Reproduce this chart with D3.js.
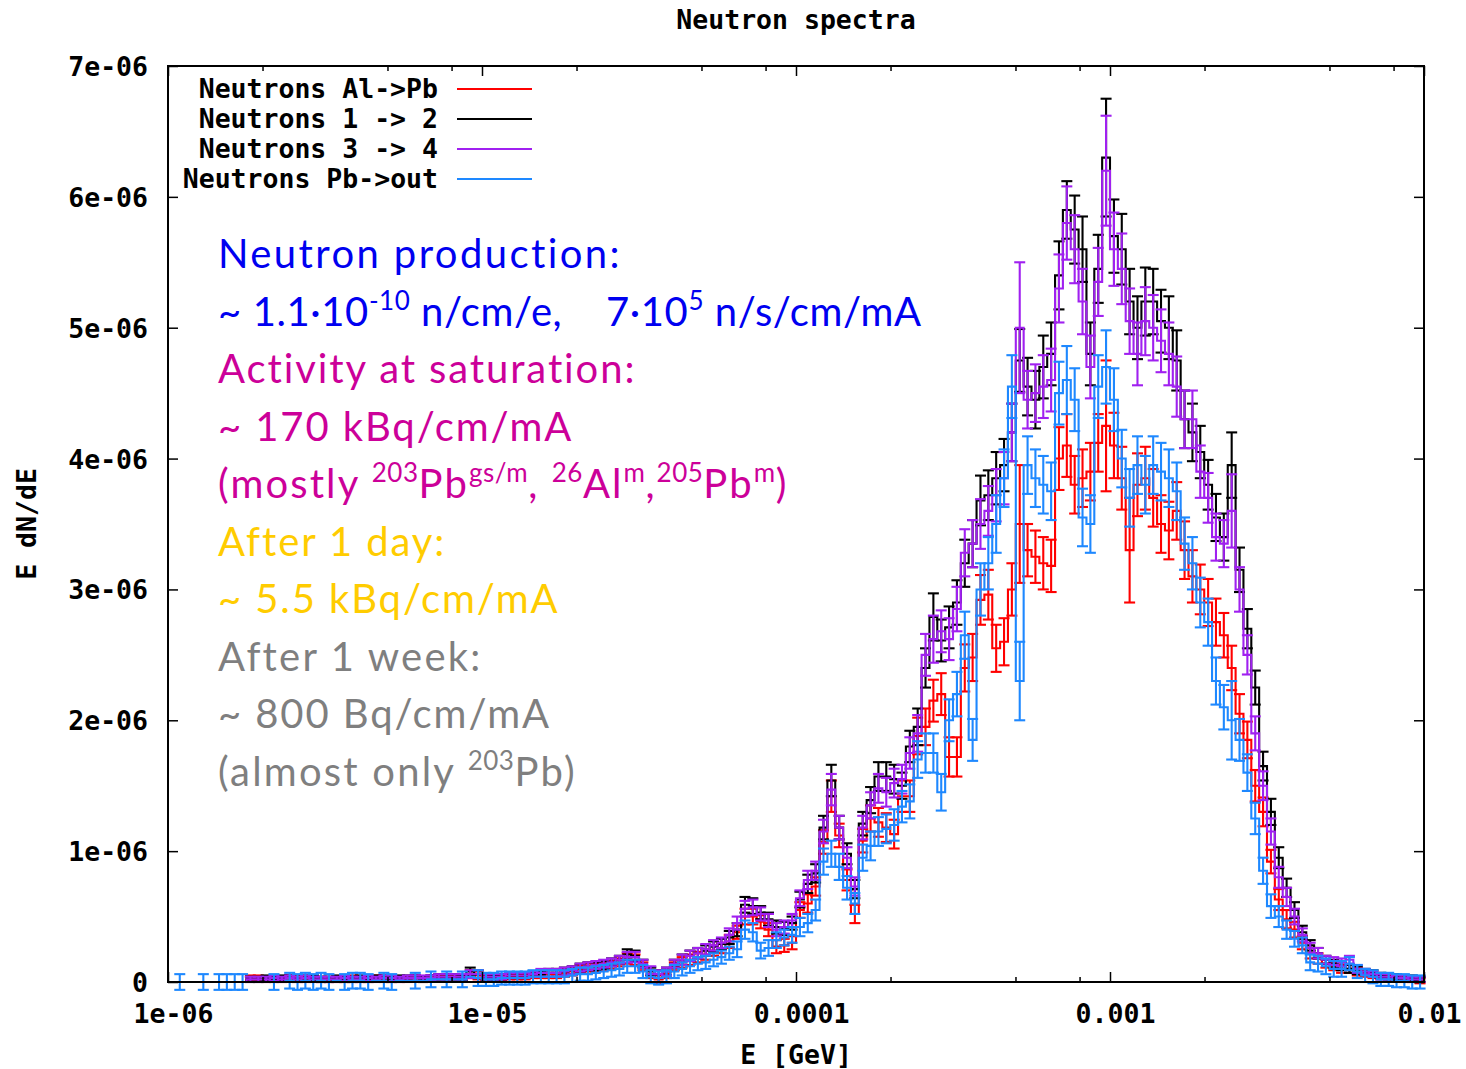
<!DOCTYPE html>
<html>
<head>
<meta charset="utf-8">
<script src="https://cdn.jsdelivr.net/npm/d3@7"></script>
<style>
  html, body { margin: 0; padding: 0; background: #fff; }
  svg { display: block; }
  .gp { font-family: 'DejaVu Sans Mono', monospace; font-weight: bold; font-size: 26.5px; fill: #000; white-space: pre; }
  .note { font-family: Lato, 'Open Sans', sans-serif; font-size: 40px; letter-spacing: 1.9px; white-space: pre; }
</style>
</head>
<body>
<div id="chart"></div>
<script>
// E dN/dE histograms, log bins (40 per decade from 1e-6 GeV), values in units of 1e-8
const binsPerDecade = 40;
const eMin = 1e-6;
const unit = 1e-8;

const seriesNames = ['Neutrons Al->Pb', 'Neutrons 1 -> 2', 'Neutrons 3 -> 4', 'Neutrons Pb->out'];
const seriesColors = ['#ff0000', '#000000', '#a020f0', '#1e88ff'];

const alToPb = [
  0,0,0,0,0,0,0,0,0,0, 3,3,2,3,2,3,3,2,3,2, 2,2,2,3,2,2,3,2,2,2, 2,3,2,3,3,3,3,3,6,5,
  3,3,3,4,4,4,5,5,6,6, 7,8,10,11,11,12,13,15,18,17, 12,6,2,6,12,15,17,19,21,24, 26,31,38,50,50,46,40,27,28,30,
  55,60,73,107,142,112,78,52,108,125, 122,118,113,142,142,188,195,215,220,172, 172,240,248,292,296,255,260,300,350,330,
  325,320,318,400,410,380,385,390,412,425, 410,385,330,380,385,370,350,345,360,330, 310,300,290,275,265,240,205,185,150,130,
  92,63,48,40,30,22,18,14,12,10, 10,8,6,5,4,3,3,2,2,1
];
const alToPbErr = [
  0,0,0,0,0,0,0,0,0,0, 2,2,2,2,2,2,2,2,2,2, 2,2,2,2,2,2,2,2,2,2, 2,2,2,2,2,2,2,2,3,3,
  2,2,2,2,2,2,2,2,3,3, 3,3,3,3,3,3,3,3,4,4, 3,3,3,3,3,4,4,4,4,4, 4,5,5,6,6,5,5,5,5,5,
  6,7,7,9,12,9,8,7,9,10, 11,11,11,12,12,14,14,16,16,15, 15,18,18,19,19,18,18,20,45,20,
  20,20,20,24,24,22,22,22,22,50, 25,24,40,24,24,22,22,22,22,22, 20,19,18,18,17,17,15,14,12,11,
  9,8,7,6,5,4,4,3,3,3, 3,3,2,2,2,2,2,2,2,2
];

const oneToTwo = [
  0,0,0,0,0,0,0,0,0,0, 2,2,3,2,3,3,2,3,3,2, 2,3,2,2,3,2,3,3,2,3, 3,3,2,3,4,4,4,3,8,6,
  4,3,4,5,5,5,6,6,7,7, 8,9,11,12,12,13,15,17,21,20, 14,8,6,8,14,17,20,22,24,27, 29,34,40,59,58,53,48,42,41,45,
  63,75,83,118,154,118,98,71,121,139, 157,157,155,150,180,195,240,279,261,271, 290,320,335,368,372,385,395,420,475,455,
  445,470,480,540,590,575,560,480,545,630, 570,560,520,500,520,520,505,500,475,430, 420,405,380,355,340,395,315,270,225,165,
  130,95,72,55,38,28,22,17,14,12, 10,9,8,7,5,4,4,3,3,2
];
const oneToTwoErr = [
  0,0,0,0,0,0,0,0,0,0, 2,2,2,2,2,2,2,2,2,2, 2,2,2,2,2,2,2,2,2,2, 2,2,2,2,2,2,2,2,3,3,
  2,2,2,2,2,2,2,2,3,3, 3,3,3,3,3,3,3,3,4,4, 3,3,3,3,3,4,4,4,4,4, 4,5,5,6,6,5,5,5,5,5,
  6,7,7,9,12,9,8,7,9,10, 11,11,11,10,12,14,15,18,16,16, 17,18,18,19,19,20,20,22,24,22,
  22,24,24,26,22,26,25,24,26,45, 28,27,25,24,26,25,24,24,23,22, 22,20,19,18,18,25,17,15,13,11,
  10,8,7,6,5,4,4,3,3,3, 3,3,2,2,2,2,2,2,2,2
];

const threeToFour = [
  0,0,0,0,0,0,0,0,0,0, 2,2,2,3,2,3,2,3,2,2, 2,2,3,2,2,3,2,3,3,2, 3,3,3,3,4,4,4,4,6,6,
  4,4,4,5,5,5,6,7,7,7, 8,9,11,12,13,14,15,17,19,19, 14,9,6,8,14,17,20,22,25,28, 30,36,45,56,57,52,47,40,42,47,
  64,78,85,115,147,118,95,73,118,135, 148,145,152,155,175,190,250,262,268,262, 285,328,335,350,360,372,385,420,500,445,
  450,455,460,530,580,560,520,470,535,620, 560,545,505,480,505,500,490,480,455,430, 430,390,370,340,335,360,300,250,190,150,
  115,80,65,50,36,26,22,17,16,15, 17,10,8,6,4,4,3,3,2,2
];
const threeToFourErr = [
  0,0,0,0,0,0,0,0,0,0, 2,2,2,2,2,2,2,2,2,2, 2,2,2,2,2,2,2,2,2,2, 2,2,2,2,2,2,2,2,3,3,
  2,2,2,2,2,2,2,3,3,3, 3,3,3,3,3,3,3,3,4,4, 3,3,3,3,3,4,4,4,4,4, 4,5,5,6,6,5,5,5,5,5,
  6,7,7,9,12,9,8,7,9,10, 11,11,11,11,12,14,16,18,16,16, 17,18,18,19,19,20,20,22,50,22,
  22,24,24,26,28,26,25,24,26,42, 28,27,25,24,26,25,24,24,23,22, 22,20,19,18,18,28,17,15,13,11,
  10,8,7,6,5,4,4,3,3,3, 3,3,2,2,2,2,2,2,2,2
];

const pbToOut = [
  0,0,0,0,0,0,0,0,0,0, 0,0,0,0,0,1,0,1,0,1, 0,1,0,1,1,0,1,1,0,1, 1,1,1,2,2,2,2,2,4,3,
  2,2,3,3,3,3,4,4,4,4, 4,5,6,6,7,8,9,10,12,12, 8,4,3,4,8,10,12,14,15,17, 19,22,25,40,38,24,26,32,34,36,
  42,45,55,92,98,88,72,60,95,104, 115,117,120,134,138,170,175,175,145,200, 220,265,185,300,320,350,385,455,230,395,
  385,380,375,450,460,445,355,350,455,470, 445,400,370,395,380,395,390,385,375,335, 320,290,275,230,210,200,185,160,125,85,
  58,50,40,33,28,15,14,12,10,10, 14,8,5,4,2,2,1,1,0,0
];
const pbToOutErr = [
  0,6,0,0,6,0,6,6,6,6, 0,0,0,6,0,6,6,6,6,6, 6,0,6,6,6,6,0,6,6,0, 0,6,0,6,0,6,0,6,0,6,
  5,5,5,5,5,5,5,5,5,5, 5,5,5,5,5,5,5,5,5,5, 5,5,5,5,5,5,5,5,5,5, 5,5,6,7,7,6,6,6,6,6,
  7,7,8,10,10,10,9,8,10,11, 11,11,12,12,13,14,15,15,14,16, 17,18,16,20,20,22,22,24,30,22,
  22,22,22,24,26,24,22,22,24,28, 24,22,22,22,22,22,22,22,22,20, 20,19,18,18,17,30,16,14,12,10,
  9,8,7,6,6,6,6,6,6,6, 5,5,5,5,5,5,5,5,5,5
];

const seriesValues = [alToPb, oneToTwo, threeToFour, pbToOut];
const seriesErrors = [alToPbErr, oneToTwoErr, threeToFourErr, pbToOutErr];

const xTicks = [1e-6, 1e-5, 1e-4, 1e-3, 1e-2];
const xTickLabels = ['1e-06', '1e-05', '0.0001', '0.001', '0.01'];
const xMinorSteps = [2, 5, 8];
const yTicks = [0, 1e-6, 2e-6, 3e-6, 4e-6, 5e-6, 6e-6, 7e-6];
const yTickLabels = ['0', '1e-06', '2e-06', '3e-06', '4e-06', '5e-06', '6e-06', '7e-06'];

const W = 1466, H = 1069;
const margin = { top: 66, left: 168, right: 42, bottom: 87 };
const iw = W - margin.left - margin.right;
const ih = H - margin.top - margin.bottom;

const svg = d3.select('#chart').append('svg').attr('width', W).attr('height', H);
const g = svg.append('g').attr('transform', `translate(${margin.left},${margin.top})`);

const x = d3.scaleLog().domain([1e-6, 1e-2]).range([0, iw]);
const y = d3.scaleLinear().domain([0, 7e-6]).range([ih, 0]);

const nBins = alToPb.length;
const edges = d3.range(nBins + 1).map((k) => eMin * Math.pow(10, k / binsPerDecade));

const lw = 2.1;

// data: steps + error bars, in legend order
seriesValues.forEach((vals, si) => {
  const col = seriesColors[si];
  const errs = seriesErrors[si];
  const pts = vals.map((v, k) => [edges[k], v * unit]);
  pts.push([edges[nBins], vals[nBins - 1] * unit]);
  const line = d3.line().x((d) => x(d[0])).y((d) => y(d[1])).curve(d3.curveStepAfter);
  const sg = g.append('g');
  sg.append('path').attr('d', line(pts)).attr('fill', 'none')
    .attr('stroke', col).attr('stroke-width', lw);
  vals.forEach((v, k) => {
    const e = errs[k];
    if (!e) return;
    const cx = x(Math.sqrt(edges[k] * edges[k + 1]));
    const y1 = y((v + e) * unit), y0 = y((v - e) * unit);
    sg.append('line').attr('x1', cx).attr('x2', cx).attr('y1', y1).attr('y2', y0)
      .attr('stroke', col).attr('stroke-width', lw);
    [y1, y0].forEach((yy) => {
      sg.append('line').attr('x1', cx - 5.5).attr('x2', cx + 5.5).attr('y1', yy).attr('y2', yy)
        .attr('stroke', col).attr('stroke-width', lw);
    });
  });
});

// axes, gnuplot style (inward ticks, mirrored)
const xMinor = [];
xTicks.slice(0, -1).forEach((t) => xMinorSteps.forEach((m) => xMinor.push(t * m)));

function styleAxis(sel) {
  sel.select('.domain').remove();
  sel.selectAll('.tick line').attr('stroke', '#000').attr('stroke-width', 1.5);
}

g.append('g').attr('transform', `translate(0,${ih})`)
  .call(d3.axisBottom(x).tickValues(xTicks).tickSize(-10).tickPadding(0).tickFormat((d, i) => xTickLabels[i]))
  .call(styleAxis)
  .call((a) => a.selectAll('.tick text').attr('class', 'gp').attr('y', 41).attr('dy', 0).attr('dx', 5));
g.append('g').attr('transform', `translate(0,${ih})`)
  .call(d3.axisBottom(x).tickValues(xMinor).tickSize(-5).tickFormat(''))
  .call(styleAxis);
g.append('g')
  .call(d3.axisTop(x).tickValues(xTicks).tickSize(-10).tickFormat(''))
  .call(styleAxis);
g.append('g')
  .call(d3.axisTop(x).tickValues(xMinor).tickSize(-5).tickFormat(''))
  .call(styleAxis);
g.append('g')
  .call(d3.axisLeft(y).tickValues(yTicks).tickSize(-10).tickPadding(0).tickFormat((d, i) => yTickLabels[i]))
  .call(styleAxis)
  .call((a) => a.selectAll('.tick text').attr('class', 'gp').attr('x', -20).attr('dy', '0.36em'));
g.append('g').attr('transform', `translate(${iw},0)`)
  .call(d3.axisRight(y).tickValues(yTicks).tickSize(-10).tickFormat(''))
  .call(styleAxis);

g.append('rect').attr('width', iw).attr('height', ih)
  .attr('fill', 'none').attr('stroke', '#000').attr('stroke-width', 2);

// titles
svg.append('text').attr('class', 'gp').attr('x', margin.left + iw / 2).attr('y', 29)
  .attr('text-anchor', 'middle').text('Neutron spectra');
svg.append('text').attr('class', 'gp').attr('x', margin.left + iw / 2).attr('y', 1064)
  .attr('text-anchor', 'middle').text('E [GeV]');
svg.append('text').attr('class', 'gp').attr('text-anchor', 'middle')
  .attr('transform', `translate(36,${margin.top + ih / 2}) rotate(-90)`).text('E dN/dE');

// legend
const leg = svg.append('g');
seriesNames.forEach((name, i) => {
  const ly = 89 + i * 30;
  leg.append('text').attr('class', 'gp').attr('x', 438).attr('y', ly + 9)
    .attr('text-anchor', 'end').text(name);
  leg.append('line').attr('x1', 457).attr('x2', 532).attr('y1', ly).attr('y2', ly)
    .attr('stroke', seriesColors[i]).attr('stroke-width', 2);
});

// annotation text
const noteColors = ['#0000f0', '#0000f0', '#cc0099', '#cc0099', '#cc0099', '#ffcc00', '#ffcc00', '#7f7f7f', '#7f7f7f', '#7f7f7f'];
const noteSpacing = [2.4, 0.6, 1.9, 1.9, 2.1, 1.9, 1.9, 2.2, 1.9, 2.2];
const noteLines = [
  [['Neutron production:']],
  [['~ 1.1·10'], ['-10', 'sup'], [' n/cm/e,'], ['7·10', 606], ['5', 'sup'], [' n/s/cm/mA']],
  [['Activity at saturation:']],
  [['~ 170 kBq/cm/mA']],
  [['(mostly '], ['203', 'sup'], ['Pb'], ['gs/m', 'sup'], [', '], ['26', 'sup'], ['Al'], ['m', 'sup'], [','], ['205', 'sup'], ['Pb'], ['m', 'sup'], [')']],
  [['After 1 day:']],
  [['~ 5.5 kBq/cm/mA']],
  [['After 1 week:']],
  [['~ 800 Bq/cm/mA']],
  [['(almost only '], ['203', 'sup'], ['Pb)']]
];
noteLines.forEach((parts, i) => {
  const t = svg.append('text').attr('class', 'note').attr('x', 218).attr('y', 268 + i * 57.5)
    .attr('fill', noteColors[i]).style('letter-spacing', noteSpacing[i] + 'px');
  let raised = false;
  parts.forEach(([s, kind]) => {
    const sp = t.append('tspan').text(s);
    if (kind === 'sup') {
      sp.attr('font-size', 26).style('letter-spacing', '0.5px').attr('dy', raised ? 0 : -16);
      raised = true;
    } else {
      if (raised) sp.attr('dy', 16);
      raised = false;
      if (typeof kind === 'number') sp.attr('x', kind);
    }
  });
});
</script>
</body>
</html>
